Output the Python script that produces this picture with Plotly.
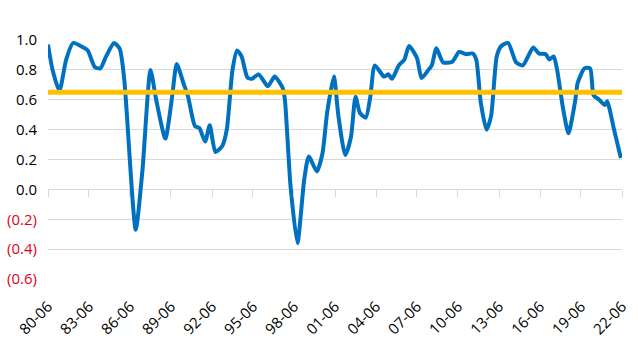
import plotly.graph_objects as go

dates = ["1980-06","1980-10","1981-04","1981-10","1982-04","1983-01","1983-05","1983-11",
         "1984-04","1984-09","1985-04","1985-09","1986-01","1986-11","1987-05","1987-12",
         "1988-05","1989-01","1989-07","1989-11","1990-05","1990-09","1991-03","1991-07",
         "1991-12","1992-04","1992-09","1993-03","1993-07","1993-12","1994-04","1994-08",
         "1995-01","1995-05","1995-11","1996-07","1997-01","1997-08","1997-10","1998-03",
         "1998-09","1999-03","1999-07","2000-02","2000-07","2000-11","2001-05","2001-09",
         "2002-03","2002-08","2002-12","2003-04","2003-09","2004-01","2004-05","2005-01",
         "2005-05","2005-08","2006-02","2006-07","2006-11","2007-06","2007-10","2008-04",
         "2008-07","2008-11","2009-05","2010-01","2010-07","2011-01","2011-07","2011-10",
         "2012-02","2012-07","2012-11","2013-04","2013-08","2014-02","2014-09","2015-03",
         "2015-12","2016-05","2016-11","2017-02","2017-06","2017-09","2018-02","2018-07",
         "2019-01","2019-03","2019-09","2020-02","2020-05","2020-10","2021-03","2021-05",
         "2021-11","2022-05"]
values = [0.97,0.80,0.66,0.87,0.98,0.95,0.93,0.82,
          0.81,0.89,0.98,0.94,0.73,-0.27,0.13,0.80,
          0.60,0.34,0.62,0.84,0.71,0.62,0.425,0.41,
          0.32,0.43,0.25,0.29,0.40,0.80,0.93,0.89,
          0.75,0.74,0.77,0.69,0.755,0.68,0.60,0.02,
          -0.36,0.065,0.22,0.12,0.24,0.51,0.755,0.49,
          0.23,0.35,0.62,0.51,0.48,0.62,0.83,0.755,
          0.77,0.74,0.83,0.87,0.96,0.88,0.745,0.80,
          0.83,0.945,0.85,0.855,0.92,0.905,0.91,0.87,
          0.58,0.40,0.49,0.89,0.96,0.98,0.85,0.83,
          0.95,0.91,0.905,0.87,0.89,0.80,0.55,0.375,
          0.60,0.71,0.81,0.81,0.63,0.60,0.565,0.59,
          0.40,0.21]

threshold_x = ["1980-06-01", "2022-06-01"]
threshold_y = [0.65, 0.65]

y_tickvals = [1.0, 0.8, 0.6, 0.4, 0.2, 0.0, -0.2, -0.4, -0.6]
y_ticktext = ["1.0", "0.8", "0.6", "0.4", "0.2", "0.0",
              "<span style='color:#E0001B'>(0.2)</span>",
              "<span style='color:#E0001B'>(0.4)</span>",
              "<span style='color:#E0001B'>(0.6)</span>"]

x_range = ["1980-06-01", "2022-06-01"]

fig = go.Figure()
fig.add_trace(go.Scatter(x=threshold_x, y=threshold_y, mode="lines",
                         line=dict(color="#FFC000", width=5), xaxis="x2",
                         showlegend=False, hoverinfo="skip"))
fig.add_trace(go.Scatter(x=[d + "-01" for d in dates], y=values, mode="lines",
                         line=dict(color="#0070C0", width=4, shape="spline", smoothing=0.6),
                         showlegend=False))

font_family = "Open Sans, Noto Sans, DejaVu Sans, sans-serif"
fig.update_layout(
    width=638, height=345,
    margin=dict(l=48, r=16, t=40, b=66),
    paper_bgcolor="white", plot_bgcolor="white",
    font=dict(family=font_family, size=15, color="#000000"),
    xaxis=dict(type="date", range=x_range, tickformat="%y-%m", tick0="1980-06-01",
               dtick="M36", tickangle=-45, showgrid=False, zeroline=False,
               showline=False, ticks="outside", ticklen=12, tickcolor="rgba(0,0,0,0)",
               automargin=False, tickfont=dict(size=15, color="#000000")),
    xaxis2=dict(type="date", range=x_range, overlaying="x", anchor="free",
                position=0.375, side="bottom", tick0="1980-06-01", dtick="M36",
                ticks="outside", ticklen=7, tickcolor="#D9D9D9", tickwidth=1,
                showticklabels=False, showgrid=False, zeroline=False, showline=False,
                automargin=False),
    yaxis=dict(range=[-0.6, 1.0], tickvals=y_tickvals, ticktext=y_ticktext,
               showgrid=True, gridcolor="#D9D9D9", gridwidth=1, zeroline=False,
               showline=False, ticks="", ticklabelstandoff=10, automargin=False,
               tickfont=dict(size=15, color="#000000")),
)

fig.write_html("out.html")
